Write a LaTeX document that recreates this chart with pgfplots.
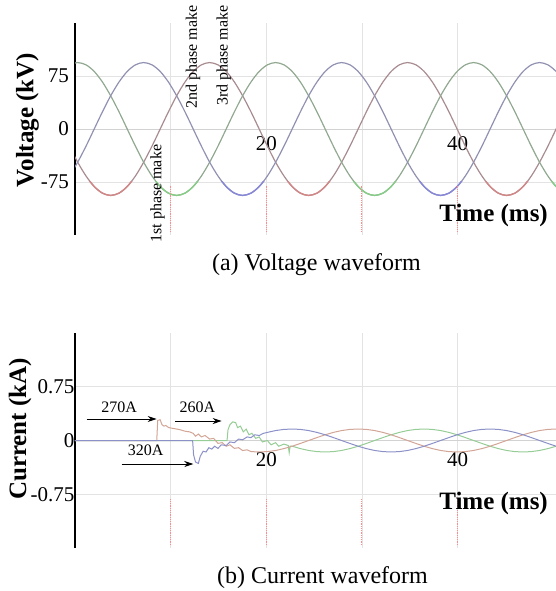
\documentclass[border=0pt]{standalone}
\usepackage{fontspec}
\setmainfont{Liberation Serif}
\usepackage{pgfplots}
\pgfplotsset{compat=1.18}
\usepackage{pgfplotstable}
\usetikzlibrary{arrows.meta}

\definecolor{redC}{RGB}{210,135,135}
\definecolor{greenC}{RGB}{135,205,135}
\definecolor{blueC}{RGB}{135,135,215}
\definecolor{redG}{RGB}{168,140,145}
\definecolor{greenG}{RGB}{145,168,145}
\definecolor{blueG}{RGB}{145,145,178}
\definecolor{redI}{RGB}{210,165,150}
\definecolor{greenI}{RGB}{150,205,150}
\definecolor{blueI}{RGB}{140,145,200}

\pgfplotstableread{
t r g b
-0.58 -24.33 90.80 -66.47
0.28 -47.00 94.00 -47.00
1.15 -66.47 90.80 -24.33
2.01 -81.41 81.41 0
2.87 -90.80 66.47 24.33
3.73 -94.00 47.00 47.00
4.60 -90.80 24.33 66.47
5.46 -81.41 0 81.41
6.32 -66.47 -24.33 90.80
7.18 -47.00 -47.00 94.00
8.05 -24.33 -66.47 90.80
8.91 0 -81.41 81.41
9.77 24.33 -90.80 66.47
10.63 47.00 -94.00 47.00
11.50 66.47 -90.80 24.33
12.36 81.41 -81.41 0
13.22 90.80 -66.47 -24.33
14.08 94.00 -47.00 -47.00
14.95 90.80 -24.33 -66.47
15.81 81.41 0 -81.41
16.67 66.47 24.33 -90.80
17.53 47.00 47.00 -94.00
18.40 24.33 66.47 -90.80
19.26 0 81.41 -81.41
20.12 -24.33 90.80 -66.47
20.98 -47.00 94.00 -47.00
21.85 -66.47 90.80 -24.33
22.71 -81.41 81.41 0
23.57 -90.80 66.47 24.33
24.43 -94.00 47.00 47.00
25.30 -90.80 24.33 66.47
26.16 -81.41 0 81.41
27.02 -66.47 -24.33 90.80
27.88 -47.00 -47.00 94.00
28.75 -24.33 -66.47 90.80
29.61 0 -81.41 81.41
30.47 24.33 -90.80 66.47
31.33 47.00 -94.00 47.00
32.20 66.47 -90.80 24.33
33.06 81.41 -81.41 0
33.92 90.80 -66.47 -24.33
34.78 94.00 -47.00 -47.00
35.65 90.80 -24.33 -66.47
36.51 81.41 0 -81.41
37.37 66.47 24.33 -90.80
38.23 47.00 47.00 -94.00
39.10 24.33 66.47 -90.80
39.96 0 81.41 -81.41
40.82 -24.33 90.80 -66.47
41.68 -47.00 94.00 -47.00
42.55 -66.47 90.80 -24.33
43.41 -81.41 81.41 0
44.27 -90.80 66.47 24.33
45.13 -94.00 47.00 47.00
46.00 -90.80 24.33 66.47
46.86 -81.41 0 81.41
47.72 -66.47 -24.33 90.80
48.58 -47.00 -47.00 94.00
49.45 -24.33 -66.47 90.80
50.31 0 -81.41 81.41
51.17 24.33 -90.80 66.47
}\volt

\pgfplotstableread{
t i
0 0
8.55 0
8.65 0.28
8.90 0.29
9.10 0.22
9.30 0.20
9.50 0.21
9.80 0.18
10.20 0.17
10.63 0.16
11.00 0.15
11.50 0.13
12.00 0.12
12.36 0.10
12.60 0.06
12.90 0.09
13.22 0.05
13.60 0.07
14.08 0.02
14.50 0.03
14.95 -0.04
15.40 -0.03
15.81 -0.08
16.20 -0.06
16.67 -0.11
17.10 -0.10
17.53 -0.14
18.00 -0.13
18.40 -0.155
19.26 -0.160
20.12 -0.155
20.98 -0.139
21.85 -0.113
22.71 -0.080
23.57 -0.041
24.43 0
25.30 0.041
26.16 0.080
27.02 0.113
27.88 0.139
28.75 0.155
29.61 0.160
30.47 0.155
31.33 0.139
32.20 0.113
33.06 0.080
33.92 0.041
34.78 0
35.65 -0.041
36.51 -0.080
37.37 -0.113
38.23 -0.139
39.10 -0.155
39.96 -0.160
40.82 -0.155
41.68 -0.139
42.55 -0.113
43.41 -0.080
44.27 -0.041
45.13 0
46.00 0.041
46.86 0.080
47.72 0.113
48.58 0.139
49.45 0.155
50.31 0.160
51.17 0.155
}\curR

\pgfplotstableread{
t i
0 0
15.90 0
16.00 0.15
16.20 0.22
16.50 0.26
16.80 0.25
17.00 0.18
17.30 0.20
17.60 0.12
17.90 0.16
18.20 0.08
18.50 0.10
18.90 0.03
19.26 0.05
19.60 -0.02
20.12 0.00
20.50 -0.06
20.98 -0.03
21.30 -0.08
21.85 -0.05
22.30 -0.07
22.40 -0.17
22.50 -0.08
22.71 -0.080
23.57 -0.113
24.43 -0.139
25.30 -0.155
26.16 -0.160
27.02 -0.155
27.88 -0.139
28.75 -0.113
29.61 -0.080
30.47 -0.041
31.33 0
32.20 0.041
33.06 0.080
33.92 0.113
34.78 0.139
35.65 0.155
36.51 0.160
37.37 0.155
38.23 0.139
39.10 0.113
39.96 0.080
40.82 0.041
41.68 0
42.55 -0.041
43.41 -0.080
44.27 -0.113
45.13 -0.139
46.00 -0.155
46.86 -0.160
47.72 -0.155
48.58 -0.139
49.45 -0.113
50.31 -0.080
51.17 -0.041
}\curG

\pgfplotstableread{
t i
0 0
12.30 0
12.40 -0.20
12.60 -0.30
12.90 -0.32
13.10 -0.22
13.40 -0.15
13.70 -0.16
14.00 -0.10
14.30 -0.12
14.60 -0.08
14.95 -0.11
15.30 -0.06
15.81 -0.07
16.20 -0.02
16.67 -0.03
17.10 0.02
17.53 0.01
18.00 0.05
18.40 0.04
18.80 0.08
19.26 0.07
19.70 0.10
20.12 0.113
20.98 0.139
21.85 0.155
22.71 0.160
23.57 0.155
24.43 0.139
25.30 0.113
26.16 0.080
27.02 0.041
27.88 0
28.75 -0.041
29.61 -0.080
30.47 -0.113
31.33 -0.139
32.20 -0.155
33.06 -0.160
33.92 -0.155
34.78 -0.139
35.65 -0.113
36.51 -0.080
37.37 -0.041
38.23 0
39.10 0.041
39.96 0.080
40.82 0.113
41.68 0.139
42.55 0.155
43.41 0.160
44.27 0.155
45.13 0.139
46.00 0.113
46.86 0.080
47.72 0.041
48.58 0
49.45 -0.041
50.31 -0.080
51.17 -0.113
}\curB

\pgfplotsset{wave/.style={
  scale only axis, width=481pt, clip mode=individual,
  xmin=0, xmax=50.3,
  axis x line=middle, axis y line=left,
  x axis line style={draw=gray!35, line width=0.6pt, -},
  y axis line style={draw=black, line width=1.4pt, -},
  xtick={10,20,30,40}, xticklabels={,20,,40},
  major tick length=0pt,
  xmajorgrids, ymajorgrids,
  major grid style={draw=gray!22, line width=0.6pt},
  tick label style={font=\fontsize{21}{24}\selectfont},
  /pgf/number format/assume math mode=true,
}}

\begin{document}
\begin{tikzpicture}
\path[use as bounding box] (-75pt,-356pt) rectangle (481pt,235pt);
% ---------------- (a) voltage
\begin{axis}[wave, at={(0pt,0pt)}, anchor=south west, height=212pt,
  ymin=-150, ymax=150, ytick={-75,0,75}, yticklabels={-75,0,75},
  yticklabel style={xshift=-2.5pt}, xticklabel style={yshift=-4pt}]
\addplot[redG, line width=1.2pt, smooth] table[x=t,y=r]{\volt};
\addplot[greenG, line width=1.2pt, smooth] table[x=t,y=g]{\volt};
\addplot[blueG, line width=1.2pt, smooth] table[x=t,y=b]{\volt};
\begin{scope}
\clip (axis cs:0,-150) rectangle (axis cs:50.3,-75);
\addplot[redC, line width=1.4pt, smooth] table[x=t,y=r]{\volt};
\addplot[greenC, line width=1.4pt, smooth] table[x=t,y=g]{\volt};
\addplot[blueC, line width=1.4pt, smooth] table[x=t,y=b]{\volt};
\end{scope}
\addplot[red!45, densely dotted, line width=0.8pt] coordinates {(10,-80) (10,-145)};
\addplot[red!45, densely dotted, line width=0.8pt] coordinates {(20,-80) (20,-145)};
\addplot[red!45, densely dotted, line width=0.8pt] coordinates {(30,-80) (30,-145)};
\addplot[red!45, densely dotted, line width=0.8pt] coordinates {(40,-80) (40,-145)};
\node[rotate=90, anchor=west, inner sep=0pt, font=\fontsize{16}{18}\selectfont] at (axis cs:8.62,-161) {1st phase make};
\node[rotate=90, anchor=east, inner sep=0pt, font=\fontsize{16}{18}\selectfont] at (axis cs:12.33,175) {2nd phase make};
\node[rotate=90, anchor=east, inner sep=0pt, font=\fontsize{16}{18}\selectfont] at (axis cs:15.57,175) {3rd phase make};
\node[rotate=90, font=\fontsize{25}{28}\selectfont\bfseries] at (rel axis cs:-0.0988,0.5425) {Voltage (kV)};
\node[anchor=east, inner sep=0pt, font=\fontsize{25}{28}\selectfont\bfseries] at (rel axis cs:0.9834,0.0943) {Time (ms)};
\node[font=\fontsize{24}{28}\selectfont] at (rel axis cs:0.502,-0.1415) {(a) Voltage waveform};
\end{axis}
% ---------------- (b) current
\begin{axis}[wave, at={(0pt,-313pt)}, anchor=south west, height=215pt,
  ymin=-1.5, ymax=1.5, ytick={-0.75,0,0.75}, yticklabels={-0.75,0,0.75},
  yticklabel style={xshift=3pt}, xticklabel style={yshift=-8pt}]
\addplot[greenI, line width=1pt] table[x=t,y=i]{\curG};
\addplot[redI, line width=1pt] table[x=t,y=i]{\curR};
\addplot[blueI, line width=1pt] table[x=t,y=i]{\curB};
\addplot[red!45, densely dotted, line width=0.8pt] coordinates {(10,-0.82) (10,-1.47)};
\addplot[red!45, densely dotted, line width=0.8pt] coordinates {(20,-0.82) (20,-1.47)};
\addplot[red!45, densely dotted, line width=0.8pt] coordinates {(30,-0.82) (30,-1.47)};
\addplot[red!45, densely dotted, line width=0.8pt] coordinates {(40,-0.82) (40,-1.47)};
\draw[-{Stealth[length=9pt,width=6pt]}, line width=1pt] (axis cs:1.22,0.30) -- (axis cs:8.54,0.30);
\draw[-{Stealth[length=9pt,width=6pt]}, line width=1pt] (axis cs:10.46,0.272) -- (axis cs:15.34,0.272);
\draw[-{Stealth[length=9pt,width=6pt]}, line width=1pt] (axis cs:4.88,-0.328) -- (axis cs:12.37,-0.328);
\node[font=\fontsize{16}{18}\selectfont] at (axis cs:4.62,0.46) {270A};
\node[font=\fontsize{16}{18}\selectfont] at (axis cs:12.81,0.46) {260A};
\node[font=\fontsize{16}{18}\selectfont] at (axis cs:7.39,-0.133) {320A};
\node[rotate=90, font=\fontsize{25}{28}\selectfont\bfseries] at (rel axis cs:-0.1143,0.5535) {Current (kA)};
\node[anchor=east, inner sep=0pt, font=\fontsize{25}{28}\selectfont\bfseries] at (rel axis cs:0.9834,0.209) {Time (ms)};
\node[font=\fontsize{24}{28}\selectfont] at (rel axis cs:0.5146,-0.1395) {(b) Current waveform};
\end{axis}
\end{tikzpicture}
\end{document}
